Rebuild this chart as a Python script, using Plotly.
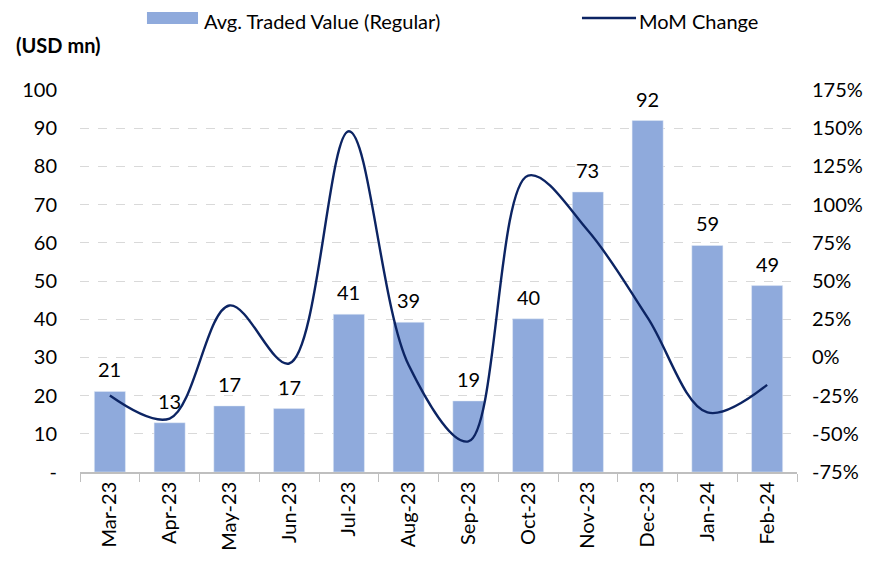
import plotly.graph_objects as go

months = ["Mar-23", "Apr-23", "May-23", "Jun-23", "Jul-23", "Aug-23",
          "Sep-23", "Oct-23", "Nov-23", "Dec-23", "Jan-24", "Feb-24"]
traded_value = [21.1, 12.9, 17.3, 16.6, 41.3, 39.2, 18.6, 40.1, 73.3, 92.0, 59.3, 48.8]
mom_change = [-25, -40, 34, -4, 148, -5, -55, 119, 83, 26, -36, -18]
left_ticks = [0, 10, 20, 30, 40, 50, 60, 70, 80, 90, 100]
left_labels = ["-", "10", "20", "30", "40", "50", "60", "70", "80", "90", "100"]
right_ticks = [-75, -50, -25, 0, 25, 50, 75, 100, 125, 150, 175]
right_labels = [f"{v}%" for v in right_ticks]

FONT = "Lato, Arial"
BAR_COLOR = "#8FAADC"
LINE_COLOR = "#0C2463"

fig = go.Figure()
fig.add_trace(go.Bar(
    x=months, y=traded_value, name="Avg. Traded Value (Regular)",
    marker=dict(color=BAR_COLOR), yaxis="y",
))
fig.add_trace(go.Scatter(
    x=months, y=mom_change, name="MoM Change", mode="lines",
    line=dict(color=LINE_COLOR, width=2.4, shape="spline", smoothing=1.0),
    yaxis="y2",
))

for m, v in zip(months, traded_value):
    fig.add_annotation(x=m, y=v, xref="x", yref="y", text=f"{v:.0f}",
                       showarrow=False, yanchor="bottom", yshift=8,
                       font=dict(size=20, color="#000000", family=FONT))

# title of left axis
fig.add_annotation(x=-0.092, y=1.118, xref="paper", yref="paper",
                   text="<b>(USD mn)</b>", showarrow=False,
                   xanchor="left", yanchor="middle",
                   font=dict(size=20, color="#000000", family=FONT))

# manual legend
LEG_Y = 1.1805
fig.add_shape(type="rect", xref="paper", yref="paper",
              x0=0.0934, x1=0.1646, y0=1.1728, y1=1.2042,
              fillcolor=BAR_COLOR, line=dict(width=0))
fig.add_annotation(x=0.1715, y=LEG_Y, xref="paper", yref="paper",
                   text="Avg. Traded Value (Regular)", showarrow=False,
                   xanchor="left", yanchor="middle", borderpad=0,
                   font=dict(size=20, color="#000000", family=FONT))
fig.add_shape(type="line", xref="paper", yref="paper",
              x0=0.7001, x1=0.7755, y0=1.1885, y1=1.1885,
              line=dict(color=LINE_COLOR, width=2.6))
fig.add_annotation(x=0.7782, y=LEG_Y, xref="paper", yref="paper",
                   text="MoM Change", showarrow=False,
                   xanchor="left", yanchor="middle", borderpad=0,
                   font=dict(size=20, color="#000000", family=FONT))

fig.update_layout(
    width=882, height=572,
    margin=dict(l=72, r=93, t=82, b=108, autoexpand=False),
    paper_bgcolor="white", plot_bgcolor="white",
    bargap=0.48,
    font=dict(family=FONT, size=20, color="#000000"),
    showlegend=False,
    xaxis=dict(type="category", tickson="boundaries", ticks="outside", ticklen=8,
               tickcolor="#BFBFBF", tickangle=-90, showline=True, linecolor="#BFBFBF",
               linewidth=1.5, showgrid=False, tickfont=dict(size=20), automargin=False),
    yaxis=dict(range=[0, 100], tickvals=left_ticks, ticktext=left_labels,
               showgrid=True, gridcolor="#D9D9D9", griddash="dash", gridwidth=1,
               zeroline=False, showline=False, ticks="", ticklabelstandoff=22,
               automargin=False),
    yaxis2=dict(range=[-75, 175], tickvals=right_ticks, ticktext=right_labels,
                overlaying="y", side="right", showgrid=False, zeroline=False,
                showline=False, ticks="", ticklabelstandoff=14, automargin=False),
)

fig.write_html("out.html")
